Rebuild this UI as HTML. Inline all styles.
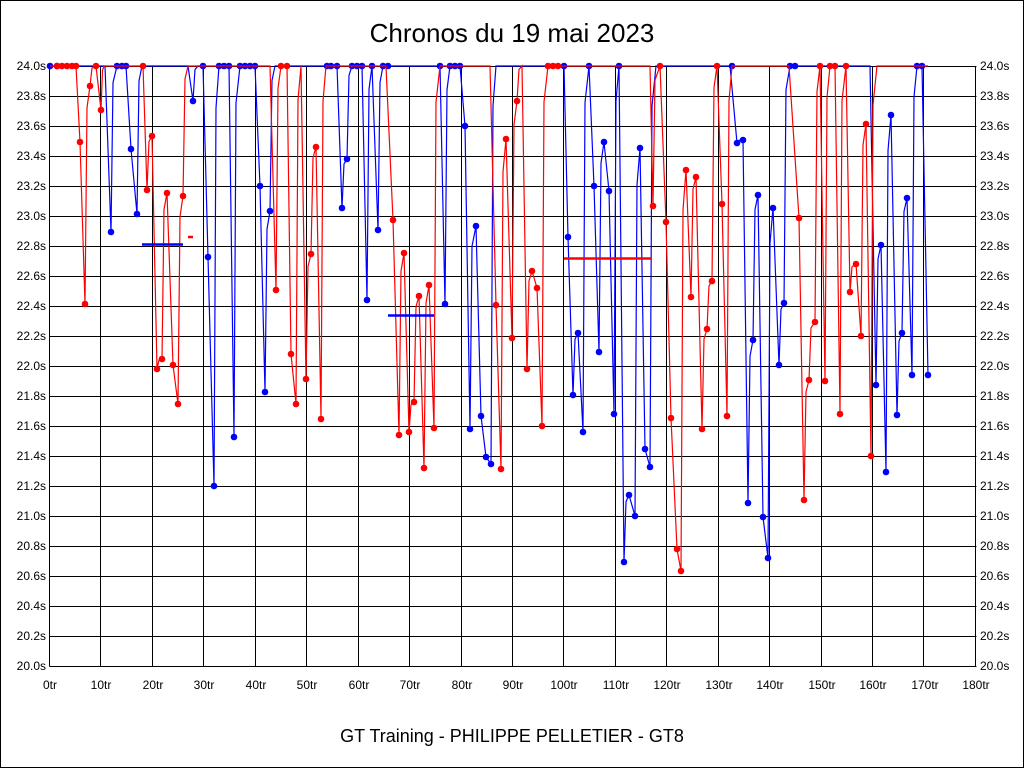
<!DOCTYPE html>
<html><head><meta charset="utf-8"><style>
html,body{margin:0;padding:0;background:#fff}
svg{display:block}
text{font-family:"Liberation Sans",Arial,sans-serif;fill:#000}
</style></head><body>
<svg id="s" width="1024" height="768" viewBox="0 0 1024 768" xmlns="http://www.w3.org/2000/svg">
<rect x="0.5" y="0.5" width="1023" height="767" fill="#fff" stroke="#000"/>
<g id="grid" stroke="#000" stroke-width="1"></g>
<text x="512" y="42" font-size="26" text-anchor="middle">Chronos du 19 mai 2023</text>
<text x="512" y="742" font-size="18" text-anchor="middle">GT Training - PHILIPPE PELLETIER - GT8</text>
<g font-size="12" text-anchor="end">
<text x="46" y="70">24.0s</text><text x="46" y="100">23.8s</text><text x="46" y="130">23.6s</text><text x="46" y="160">23.4s</text><text x="46" y="190">23.2s</text><text x="46" y="220">23.0s</text><text x="46" y="250">22.8s</text><text x="46" y="280">22.6s</text><text x="46" y="310">22.4s</text><text x="46" y="340">22.2s</text><text x="46" y="370">22.0s</text><text x="46" y="400">21.8s</text><text x="46" y="430">21.6s</text><text x="46" y="460">21.4s</text><text x="46" y="490">21.2s</text><text x="46" y="520">21.0s</text><text x="46" y="550">20.8s</text><text x="46" y="580">20.6s</text><text x="46" y="610">20.4s</text><text x="46" y="640">20.2s</text><text x="46" y="670">20.0s</text>
</g>
<g font-size="12" text-anchor="start">
<text x="980" y="70">24.0s</text><text x="980" y="100">23.8s</text><text x="980" y="130">23.6s</text><text x="980" y="160">23.4s</text><text x="980" y="190">23.2s</text><text x="980" y="220">23.0s</text><text x="980" y="250">22.8s</text><text x="980" y="280">22.6s</text><text x="980" y="310">22.4s</text><text x="980" y="340">22.2s</text><text x="980" y="370">22.0s</text><text x="980" y="400">21.8s</text><text x="980" y="430">21.6s</text><text x="980" y="460">21.4s</text><text x="980" y="490">21.2s</text><text x="980" y="520">21.0s</text><text x="980" y="550">20.8s</text><text x="980" y="580">20.6s</text><text x="980" y="610">20.4s</text><text x="980" y="640">20.2s</text><text x="980" y="670">20.0s</text>
</g>
<g font-size="12" text-anchor="middle">
<text x="50" y="689">0tr</text><text x="101" y="689">10tr</text><text x="153" y="689">20tr</text><text x="204" y="689">30tr</text><text x="256" y="689">40tr</text><text x="307" y="689">50tr</text><text x="359" y="689">60tr</text><text x="410" y="689">70tr</text><text x="462" y="689">80tr</text><text x="513" y="689">90tr</text><text x="564" y="689">100tr</text><text x="616" y="689">110tr</text><text x="667" y="689">120tr</text><text x="719" y="689">130tr</text><text x="770" y="689">140tr</text><text x="822" y="689">150tr</text><text x="873" y="689">160tr</text><text x="925" y="689">170tr</text><text x="976" y="689">180tr</text>
</g>
<g id="series"></g>
</svg>
<script>
var NS="http://www.w3.org/2000/svg",g=document.getElementById('grid'),se=document.getElementById('series');
function el(p,t,a){var e=document.createElementNS(NS,t);for(var k in a)e.setAttribute(k,a[k]);p.appendChild(e);return e;}
for(var i=0;i<=20;i++){var y=66+i*30;el(g,'line',{x1:49.5,x2:976.5,y1:y+0.5,y2:y+0.5});}
for(var i=0;i<=18;i++){var x=Math.round(50+i*51.44)-0.5;el(g,'line',{x1:x,x2:x,y1:66,y2:666.5});}
var red=[[50,66],[57,66],[62,66],[67,66],[72,66],[76,66],[80,142],[85,304],[90,86],[96,66],[101,110],[104,66],[140,66],[143,66],[147,190],[152,136],[157,369],[162,359],[167,193],[173,365],[178,404],[183,196],[188,66],[206,66],[270,66],[276,290],[281,66],[287,66],[291,354],[296,404],[301,66],[306,379],[311,254],[316,147],[321,419],[326,66],[350,66],[386,66],[393,220],[399,435],[404,253],[409,432],[414,402],[419,296],[424,468],[429,285],[434,428],[440,66],[490,66],[496,305],[501,469],[506,139],[512,338],[517,101],[522,66],[527,369],[532,271],[537,288],[542,426],[548,66],[553,66],[558,66],[650,66],[653,206],[660,66],[666,222],[671,418],[677,549],[681,571],[686,170],[691,297],[696,177],[702,429],[707,329],[712,281],[717,66],[722,204],[727,416],[732,66],[789,66],[799,218],[804,500],[809,380],[815,322],[820,66],[825,381],[830,66],[835,66],[840,414],[846,66],[850,292],[856,264],[861,336],[866,124],[871,456],[877,66],[928,66]];
var redDots=[[57,66],[62,66],[67,66],[72,66],[76,66],[80,142],[85,304],[90,86],[96,66],[101,110],[143,66],[147,190],[152,136],[157,369],[162,359],[167,193],[173,365],[178,404],[183,196],[276,290],[281,66],[287,66],[291,354],[296,404],[306,379],[311,254],[316,147],[321,419],[393,220],[399,435],[404,253],[409,432],[414,402],[419,296],[424,468],[429,285],[434,428],[496,305],[501,469],[506,139],[512,338],[517,101],[527,369],[532,271],[537,288],[542,426],[548,66],[553,66],[558,66],[653,206],[660,66],[666,222],[671,418],[677,549],[681,571],[686,170],[691,297],[696,177],[702,429],[707,329],[712,281],[717,66],[722,204],[727,416],[799,218],[804,500],[809,380],[815,322],[820,66],[825,381],[830,66],[835,66],[840,414],[846,66],[850,292],[856,264],[861,336],[866,124],[871,456]];
var blue=[[50,66],[105,66],[111,232],[117,66],[122,66],[126,66],[131,149],[137,214],[142,66],[188,66],[193,101],[198,66],[203,66],[208,257],[214,486],[219,66],[224,66],[229,66],[234,437],[240,66],[245,66],[250,66],[255,66],[260,186],[265,392],[270,211],[275,66],[330,66],[337,66],[342,208],[347,159],[352,66],[357,66],[362,66],[367,300],[372,66],[378,230],[383,66],[388,66],[435,66],[440,66],[445,304],[450,66],[455,66],[460,66],[465,126],[470,429],[476,226],[481,416],[486,457],[491,464],[496,66],[560,66],[564,66],[568,237],[573,395],[578,333],[583,432],[589,66],[594,186],[599,352],[604,142],[609,191],[614,414],[619,66],[624,562],[629,495],[635,516],[640,148],[645,449],[650,467],[656,66],[730,66],[737,143],[743,140],[748,503],[753,340],[758,195],[763,517],[768,558],[773,208],[779,365],[784,303],[790,66],[795,66],[870,66],[876,385],[881,245],[886,472],[891,115],[897,415],[902,333],[907,198],[912,375],[917,66],[922,66],[928,375]];
var blueDots=[[50,66],[57,66],[111,232],[117,66],[122,66],[126,66],[131,149],[137,214],[193,101],[203,66],[208,257],[214,486],[219,66],[224,66],[229,66],[234,437],[240,66],[245,66],[250,66],[255,66],[260,186],[265,392],[270,211],[327,66],[331,66],[337,66],[342,208],[347,159],[352,66],[357,66],[362,66],[367,300],[372,66],[378,230],[383,66],[388,66],[440,66],[445,304],[450,66],[455,66],[460,66],[465,126],[470,429],[476,226],[481,416],[486,457],[491,464],[564,66],[568,237],[573,395],[578,333],[583,432],[589,66],[594,186],[599,352],[604,142],[609,191],[614,414],[619,66],[624,562],[629,495],[635,516],[640,148],[645,449],[650,467],[732,66],[737,143],[743,140],[748,503],[753,340],[758,195],[763,517],[768,558],[773,208],[779,365],[784,303],[790,66],[795,66],[876,385],[881,245],[886,472],[891,115],[897,415],[902,333],[907,198],[912,375],[917,66],[922,66],[928,375]];
function draw(pts,dots,c){
 var out=[pts[0]];
 for(var i=1;i<pts.length;i++){var a=pts[i-1],b=pts[i];
  if(b[1]<a[1]-2){var mx=a[0]+Math.min(2,(b[0]-a[0])/2);out.push([mx,b[1]+(a[1]-b[1])*0.1]);}
  out.push(b);}
 el(se,'polyline',{points:out.map(function(p){return p.join(',')}).join(' '),fill:'none',stroke:c,'stroke-width':1.2});
 dots.forEach(function(p){el(se,'circle',{cx:p[0],cy:p[1],r:3.3,fill:c});});
}
draw(blue,blueDots,'#0000ff');
draw(red,redDots,'#ff0000');
el(se,'line',{x1:142,x2:183,y1:244.5,y2:244.5,stroke:'#0000ff','stroke-width':2.5});
el(se,'line',{x1:388,x2:434,y1:315.5,y2:315.5,stroke:'#0000ff','stroke-width':2.5});
el(se,'line',{x1:564,x2:651,y1:258.5,y2:258.5,stroke:'#ff0000','stroke-width':2.5});
el(se,'line',{x1:188,x2:193,y1:237,y2:237,stroke:'#ff0000','stroke-width':2.5});
</script>
</body></html>
